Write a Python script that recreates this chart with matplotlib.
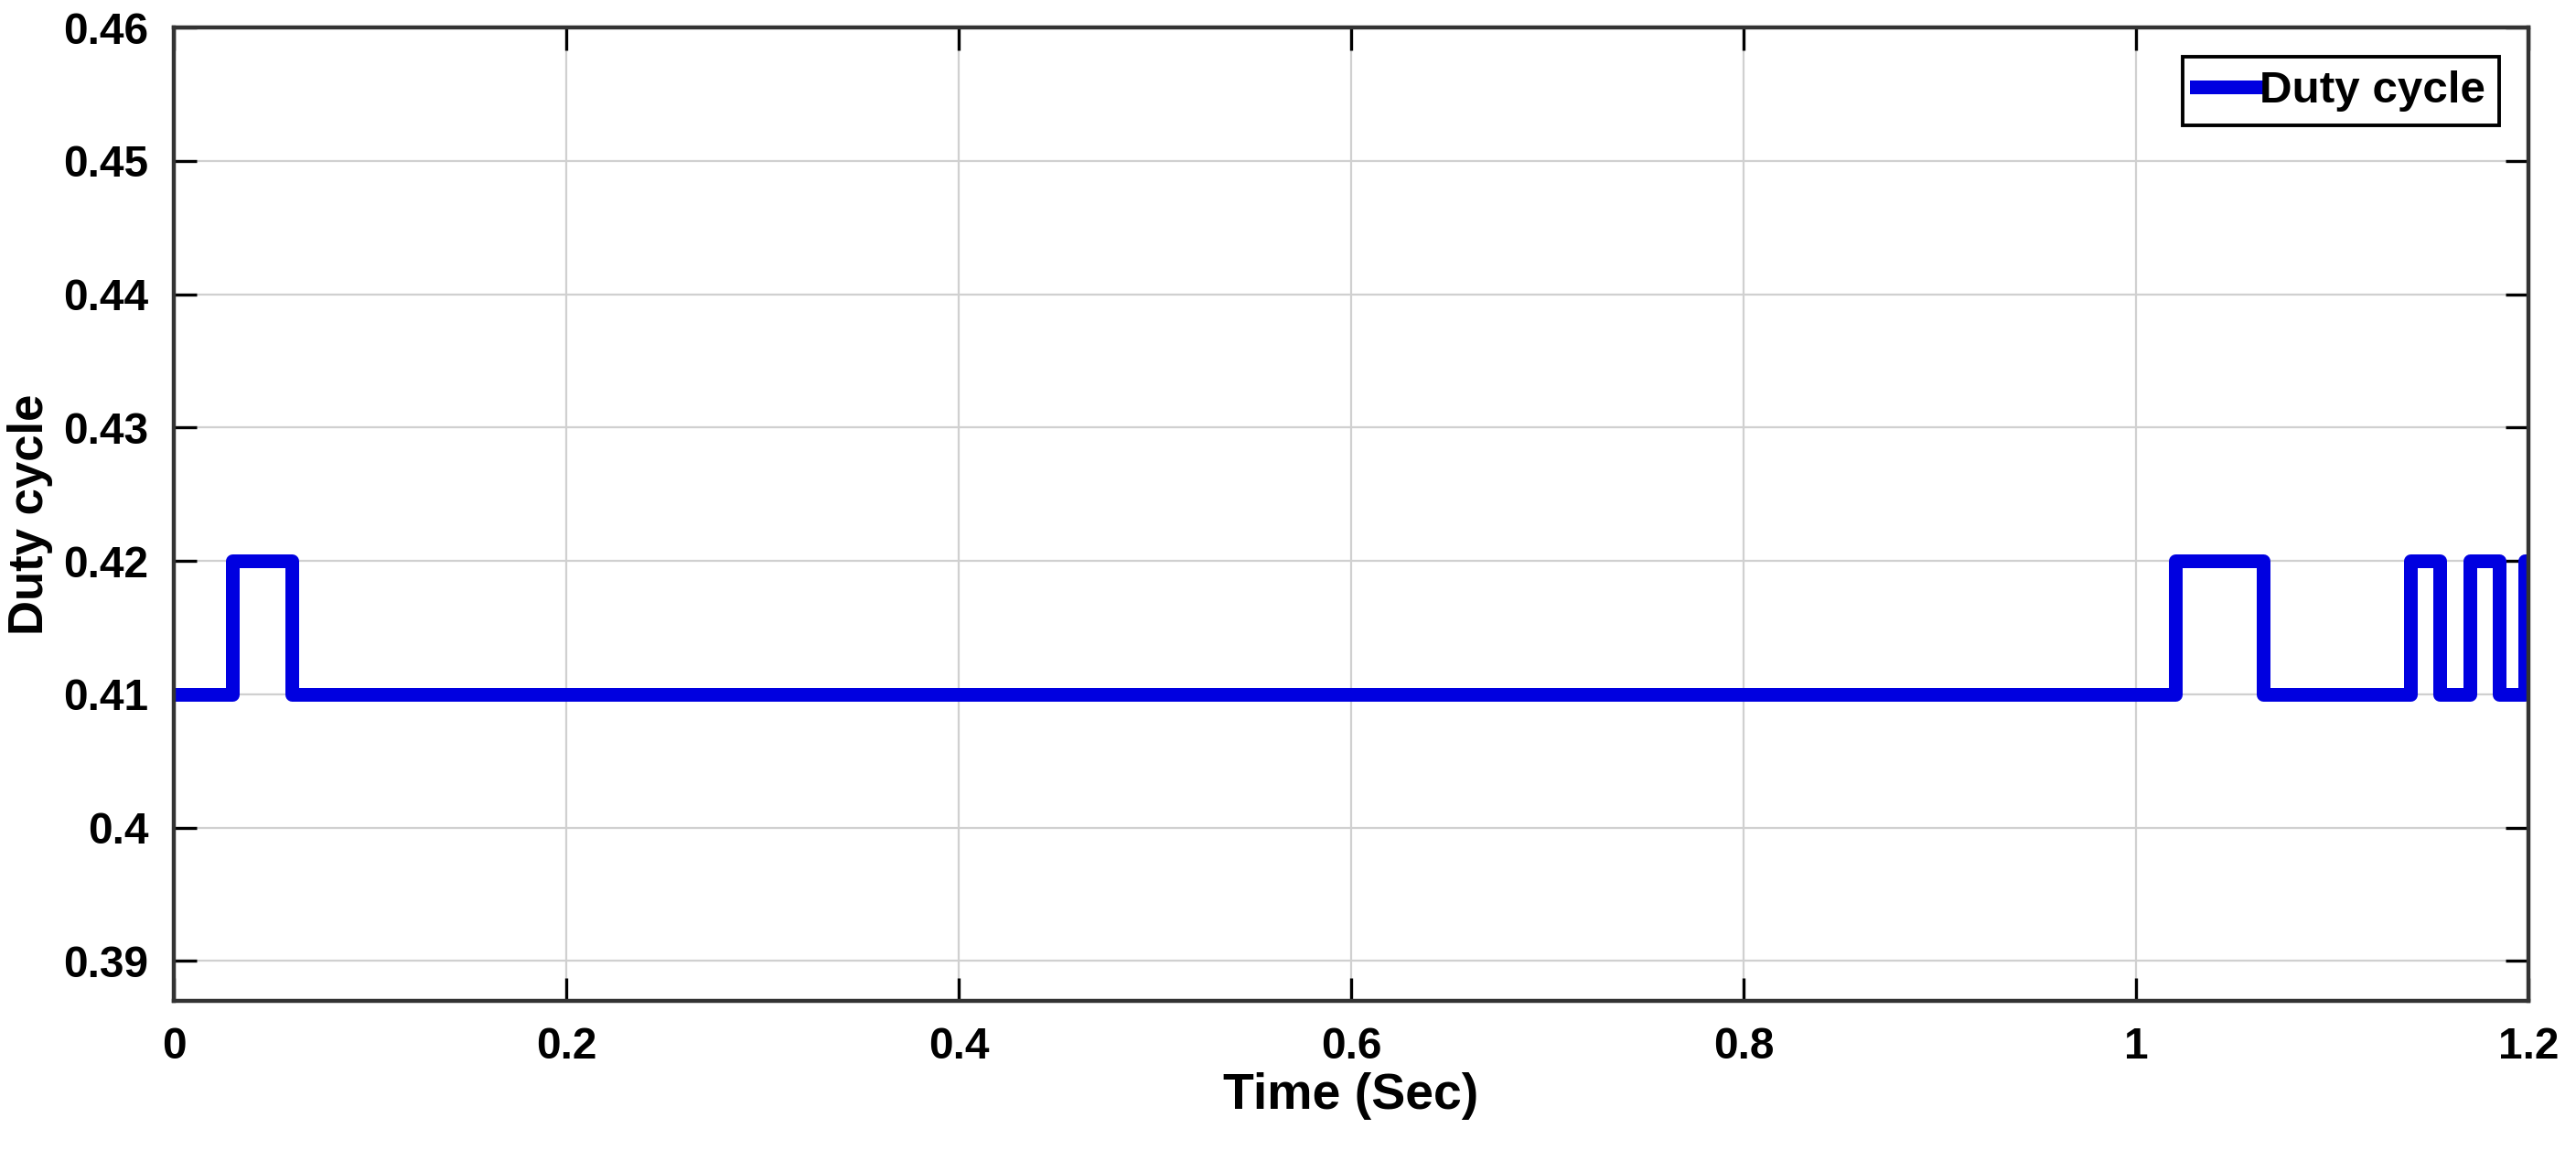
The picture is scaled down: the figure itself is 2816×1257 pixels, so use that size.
import numpy as np
import matplotlib.pyplot as plt

plt.rcParams['font.family'] = ['Liberation Sans', 'DejaVu Sans']
plt.rcParams['font.weight'] = 'bold'

# Switching instants (s) and duty cycle held from each instant
t_steps = [0, 0.03, 0.06, 1.02, 1.065, 1.14, 1.155, 1.17, 1.185, 1.198, 1.2]
duty = [0.41, 0.42, 0.41, 0.42, 0.41, 0.42, 0.41, 0.42, 0.41, 0.42, 0.42]

xticks = [0, 0.2, 0.4, 0.6, 0.8, 1, 1.2]
xtick_labels = ['0', '0.2', '0.4', '0.6', '0.8', '1', '1.2']
yticks = [0.39, 0.4, 0.41, 0.42, 0.43, 0.44, 0.45, 0.46]
ytick_labels = ['0.39', '0.4', '0.41', '0.42', '0.43', '0.44', '0.45', '0.46']

fig = plt.figure(figsize=(14.08, 6.285), dpi=200)
ax = fig.add_axes([0.0675, 0.1297, 0.914, 0.8463])

ax.step(t_steps, duty, where='post', color='#0000e0', lw=5.4, label='Duty cycle')

ax.set_xlim(0, 1.2)
ax.set_ylim(0.387, 0.46)
ax.set_xticks(xticks)
ax.set_xticklabels(xtick_labels)
ax.set_yticks(yticks)
ax.set_yticklabels(ytick_labels)

ax.grid(True, color='#d0d0d0', lw=0.8)
ax.tick_params(direction='in', length=9, width=1.2, labelsize=17.2,
               top=True, right=True, pad=10)
for s in ax.spines.values():
    s.set_linewidth(1.6)
    s.set_color('#333333')

ax.set_xlabel('Time (Sec)', fontsize=20, fontweight='bold', labelpad=2)
ax.set_ylabel('Duty cycle', fontsize=19, fontweight='bold', labelpad=4)

leg = ax.legend(loc='upper right', fontsize=17.8, handlelength=1.35,
                handletextpad=0.05, borderpad=0.3, borderaxespad=0,
                fancybox=False, framealpha=1, edgecolor='black',
                bbox_to_anchor=(0.9876, 0.97))
leg.get_frame().set_linewidth(1.4)

fig.savefig('out.png', dpi=200)
